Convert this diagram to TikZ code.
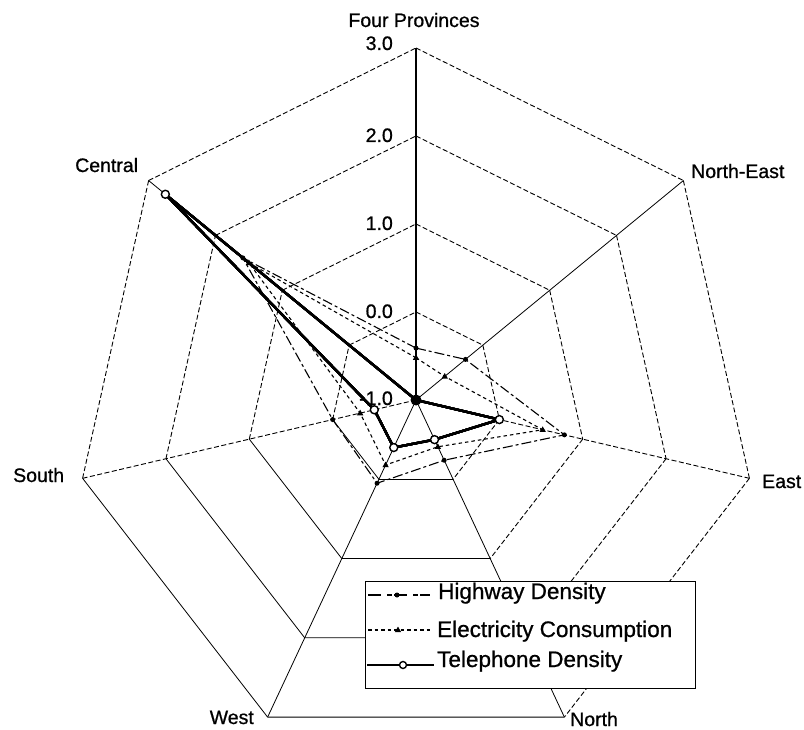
\documentclass[tikz,border=0pt]{standalone}
\usepackage{fontspec}
\setmainfont[FakeBold=0.8]{Liberation Sans}
\newcommand\etri[1]{\fill (#1) ++(0,-3.4) -- ++(3.2,5.6) -- ++(-6.4,0) -- cycle;}
\begin{document}
\begin{tikzpicture}[x=1pt,y=-1pt,
  gridd/.style={line width=0.9pt, dash pattern=on 5pt off 2.5pt},
  grids/.style={line width=0.8pt},
  hwy/.style={line width=1.1pt, dash pattern=on 10pt off 3pt on 3pt off 3pt},
  ele/.style={line width=1.1pt, dash pattern=on 3.5pt off 3pt},
  tel/.style={line width=2.3pt, line join=round},
  lab/.style={font=\fontsize{19.5}{22}\selectfont, inner sep=0pt},
  leg/.style={font=\fontsize{22.5}{25}\selectfont, inner sep=0pt, anchor=base west},
  hmark/.style={circle, fill=black, inner sep=0pt, minimum size=5pt},
  tmark/.style={circle, draw=black, fill=white, line width=1.4pt, inner sep=0pt, minimum size=8pt}
]
\useasboundingbox (0,0) rectangle (804,730);
\fill[white] (0,0) rectangle (804,730);

\begin{scope}[shift={(416,400)}, x=342pt, y=-352pt]
  \coordinate (O) at (0,0);
  \foreach \k in {0,...,6} {
    \foreach \r in {1,2,3,4} {
      \coordinate (v\r-\k) at ({-90+360/7*\k}:{\r/4});
    }
  }
  % Telephone
  \foreach \k/\v in {0/-1,1/-1,2/0,3/-0.5,4/-0.4,5/-0.5,6/2.75}
    \coordinate (t\k) at ({-90+360/7*\k}:{(\v+1)/4});
  % Highway
  \foreach \k/\v in {0/-0.41,1/-0.26,2/0.78,3/-0.24,4/0.05,5/0.0,6/1.59}
    \coordinate (h\k) at ({-90+360/7*\k}:{(\v+1)/4});
  % Electricity
  \foreach \k/\v in {0/-0.52,1/-0.57,2/0.52,3/-0.41,4/-0.18,5/-0.33,6/1.5}
    \coordinate (e\k) at ({-90+360/7*\k}:{(\v+1)/4});
\end{scope}

% grid rings
\foreach \r in {1,...,4}
  \foreach \k/\n/\s in {0/1/gridd,1/2/gridd,2/3/gridd,3/4/grids,4/5/grids,5/6/gridd,6/0/gridd}
    \draw[\s] (v\r-\k) -- (v\r-\n);
% spokes
\draw[line width=1.8pt] (O) -- (v4-0);
\foreach \k/\s in {1/grids,2/gridd,3/grids,4/grids,5/gridd,6/grids}
  \draw[\s] (O) -- (v4-\k);

% axis labels
\node[lab, anchor=base] (lfp) at (414,27) {Four Provinces};
\node[lab, anchor=base west] (lne) at (691,178) {North-East};
\node[lab, anchor=base west] (le) at (762,488) {East};
\node[lab, anchor=base west] (ln) at (570,726) {North};
\node[lab, anchor=base east] (lw) at (254,724) {West};
\node[lab, anchor=base west] (ls) at (13,482) {South};
\node[lab, anchor=base west] (lc) at (75,172) {Central};
% value labels
\node[lab, anchor=base east] (n3) at (393,50) {3.0};
\node[lab, anchor=base east] (n2) at (393,142) {2.0};
\node[lab, anchor=base east] (n1) at (393,230) {1.0};
\node[lab, anchor=base east] (n0) at (393,318) {0.0};
\node[lab, anchor=base east] (nm) at (393,405) {-1.0};

% Highway
\draw[hwy] (h0) -- (h1) -- (h2) -- (h3) -- (h4) -- (h5) -- (h6) -- cycle;
\foreach \k in {0,...,6} \node[hmark] (hm\k) at (h\k) {};
% Electricity
\draw[ele] (e0) -- (e1) -- (e2) -- (e3) -- (e4) -- (e5) -- (e6) -- cycle;
\foreach \k in {0,...,6} \etri{e\k}
% Telephone
\draw[tel] (t0) -- (t1) -- (t2) -- (t3) -- (t4) -- (t5) -- (t6) -- cycle;
\foreach \k in {2,...,6} \node[tmark] (tm\k) at (t\k) {};
\node[circle, fill=black, inner sep=0pt, minimum size=11pt] (tc) at (O) {};

% legend
\draw[line width=0.9pt, fill=white] (365,581) rectangle (695,688);
\coordinate (a1) at (368,595); \coordinate (b1) at (430,595);
\draw[line width=1.1pt, dash pattern=on 13pt off 6pt on 5pt off 2pt] (a1) -- (b1);
\node[hmark] (lm1) at (397,595) {};
\node[leg] (lt1) at (438,599) {Highway Density};
\coordinate (a2) at (368,630); \coordinate (b2) at (432,630);
\draw[ele] (a2) -- (b2);
\coordinate (lm2) at (398,630); \etri{lm2}
\node[leg] (lt2) at (437,637) {Electricity Consumption};
\coordinate (a3) at (367,665); \coordinate (b3) at (434,665);
\draw[line width=1.6pt] (a3) -- (b3);
\node[tmark, minimum size=7pt] (lm3) at (403,665) {};
\node[leg] (lt3) at (437,667) {Telephone Density};
\end{tikzpicture}
\end{document}
